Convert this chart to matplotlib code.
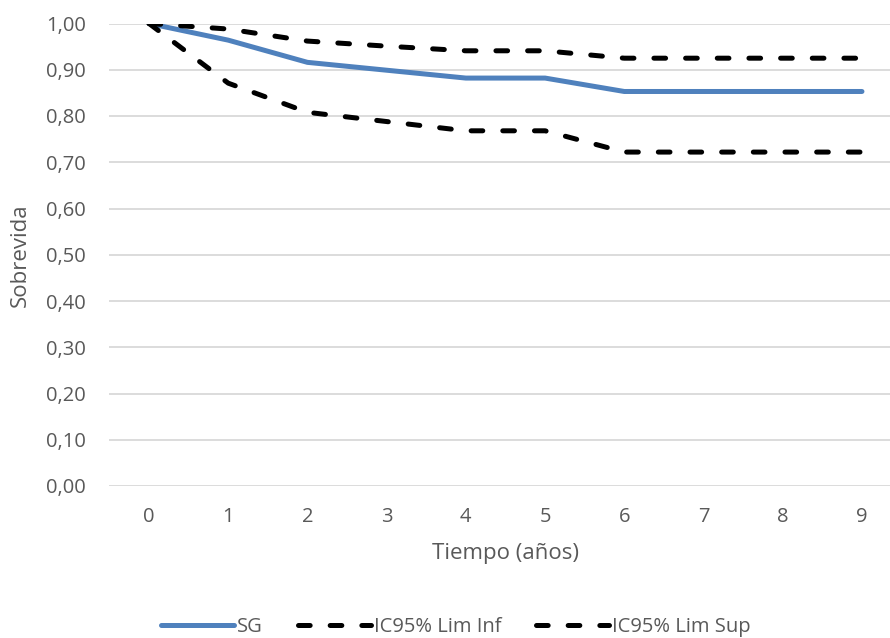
import matplotlib
matplotlib.use("Agg")
import matplotlib.pyplot as plt
from matplotlib.ticker import FuncFormatter

plt.rcParams['font.family'] = ['Open Sans', 'DejaVu Sans']
plt.rcParams['lines.scale_dashes'] = False

# data
years = [0, 1, 2, 3, 4, 5, 6, 7, 8, 9]
sg = [1.000, 0.964, 0.916, 0.899, 0.882, 0.882, 0.853, 0.853, 0.853, 0.853]
lim_inf = [1.000, 0.871, 0.808, 0.788, 0.768, 0.768, 0.722, 0.722, 0.722, 0.722]
lim_sup = [1.000, 0.988, 0.962, 0.951, 0.941, 0.941, 0.925, 0.925, 0.925, 0.925]
yticks = [0.0, 0.1, 0.2, 0.3, 0.4, 0.5, 0.6, 0.7, 0.8, 0.9, 1.0]

text_color = '#595959'
grid_color = '#D9D9D9'

fig = plt.figure(figsize=(8.9, 6.38), dpi=100)
ax = fig.add_axes([109.4 / 890, 1 - 486 / 638, (890 - 109.4) / 890, (486 - 23.5) / 638])

ax.plot(years, sg, color='#4F81BD', linewidth=3.6, solid_capstyle='round',
        solid_joinstyle='round', label='SG', zorder=3)
ax.plot(years, lim_inf, color='black', linewidth=3.6, dashes=(8.4, 14.4),
        dash_capstyle='round', label='IC95% Lim Inf', zorder=3)
ax.plot(years, lim_sup, color='black', linewidth=3.6, dashes=(8.4, 14.4),
        dash_capstyle='round', label='IC95% Lim Sup', zorder=3)

ax.set_xlim(-0.5, 9.354)
ax.set_ylim(0, 1.0)
ax.set_xticks(years)
ax.set_yticks(yticks)
ax.yaxis.set_major_formatter(FuncFormatter(lambda v, p: f"{v:.2f}".replace('.', ',')))
ax.grid(axis='y', color=grid_color, linewidth=1.3, zorder=0)
ax.set_axisbelow(True)
for s in ax.spines.values():
    s.set_visible(False)
ax.tick_params(axis='both', length=0, labelsize=14.5, labelcolor=text_color)
ax.tick_params(axis='y', pad=17)
ax.tick_params(axis='x', pad=15)

ax.set_xlabel('Tiempo (años)', fontsize=16, color=text_color)
ax.set_ylabel('Sobrevida', fontsize=16, color=text_color)
ax.xaxis.set_label_coords(0.5074, -0.1449)
ax.xaxis.label.set_va('center')
ax.yaxis.set_label_coords(-0.1145, 0.5)
ax.yaxis.label.set_va('center')

leg = fig.legend(loc='center', bbox_to_anchor=(456 / 890, 1 - 627 / 638), ncol=3,
                 frameon=False, fontsize=14.5, handlelength=3.6,
                 columnspacing=1.75, handletextpad=0.15)
for t in leg.get_texts():
    t.set_color(text_color)

fig.savefig('out.png', dpi=100)
